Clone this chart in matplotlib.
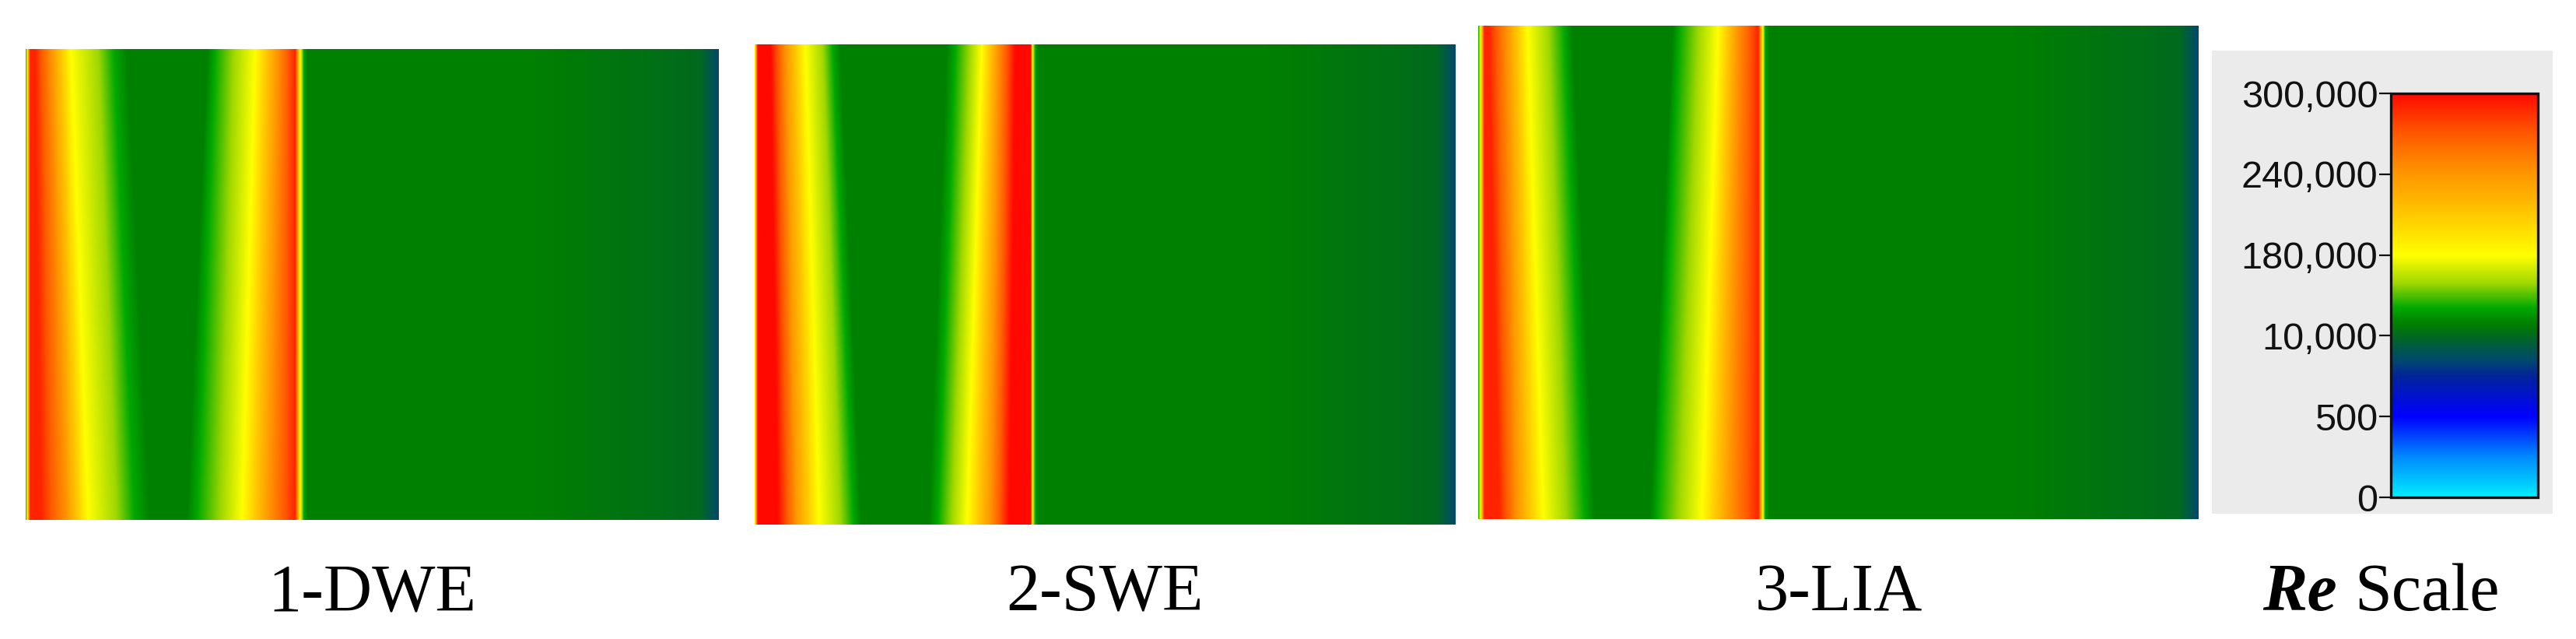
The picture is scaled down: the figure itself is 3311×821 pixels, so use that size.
"""
Re contour strips for three inlet cases (DWE, SWE, LIA) with a shared,
non-uniform Re colour scale.
"""
import numpy as np
import matplotlib
matplotlib.use("Agg")
import matplotlib.pyplot as plt
from matplotlib import font_manager
from matplotlib.cm import ScalarMappable
from matplotlib.colors import LinearSegmentedColormap, Normalize

W, H = 3312, 821

# ---- colour scale: the Re ticks sit at equal steps along the bar ----
RE_TICKS = [0, 500, 10000, 180000, 240000, 300000]
RE_TICK_LABELS = ["0", "500", "10,000", "180,000", "240,000", "300,000"]

CASES = ["1-DWE", "2-SWE", "3-LIA"]

# ---- Re profile along each channel (fraction of its length),
#      read on the top row and on the bottom row of the strip ----
DWE_X_TOP = [0, .002, .006, .013, .037, .065, .104, .127, .146, .262,
             .273, .300, .331, .363, .389, .396, .401, .406, .73, 1.0]
DWE_X_BOT = [0, .002, .006, .022, .059, .090, .131, .157, .180, .232,
             .247, .281, .312, .351, .389, .396, .401, .406, .73, 1.0]
DWE_RE = [69500, 180000, 290000, 290000, 240000, 180000, 120000, 69500, 35500, 35500,
          69500, 120000, 180000, 240000, 290000, 180000, 69500, 35500, 35500, 7150]

SWE_X_TOP = [0, .002, .004, .022, .044, .072, .097, .111, .122, .274, .286,
             .307, .324, .347, .372, .394, .396, .400, .405, .73, 1.0]
SWE_X_BOT = [0, .002, .004, .033, .059, .092, .122, .141, .152, .248, .261,
             .281, .303, .336, .363, .394, .396, .400, .405, .73, 1.0]
SWE_RE = [180000, 240000, 300000, 300000, 240000, 180000, 120000, 69500, 35500, 35500, 69500,
          120000, 180000, 240000, 300000, 300000, 180000, 69500, 35500, 35500, 7150]

LIA_X_TOP = [0, .003, .008, .014, .040, .068, .097, .119, .130, .270,
             .279, .306, .333, .360, .389, .395, .398, .404, .74, 1.0]
LIA_X_BOT = [0, .003, .008, .029, .054, .090, .122, .148, .162, .238,
             .248, .278, .310, .349, .389, .395, .398, .404, .74, 1.0]
LIA_RE = [69500, 180000, 290000, 290000, 240000, 180000, 120000, 69500, 35500, 35500,
          69500, 120000, 180000, 240000, 290000, 180000, 69500, 35500, 35500, 7150]

# colour nodes (position on bar, colour)
CMAP_NODES = [
    (0.00, "#00eeff"), (0.10, "#0088ff"), (0.20, "#0000ff"), (0.30, "#00249a"),
    (0.34, "#00486e"), (0.40, "#006a1e"), (0.43, "#008000"), (0.47, "#00a800"),
    (0.53, "#a0d800"), (0.60, "#ffff00"), (0.70, "#ffc800"), (0.80, "#ff9600"),
    (0.90, "#ff5a00"), (1.00, "#ff0800"),
]
cmap = LinearSegmentedColormap.from_list("re_scale", CMAP_NODES, N=512)
TICK_POS = np.linspace(0, 1, len(RE_TICKS))


def re_to_pos(re):
    return np.interp(re, RE_TICKS, TICK_POS)


def field(x_top, x_bot, re, nx=1800, ny=240):
    """Each row uses the profile breakpoints slid linearly from top to bottom."""
    xs = np.linspace(0, 1, nx)
    x_top, x_bot = np.asarray(x_top), np.asarray(x_bot)
    rows = [np.interp(xs, (1 - f) * x_top + f * x_bot, re) for f in np.linspace(0, 1, ny)]
    return np.array(rows)


fig = plt.figure(figsize=(W / 100, H / 100), dpi=100)
fig.patch.set_facecolor("white")


def px_axes(l, t, r, b):
    return fig.add_axes([l / W, 1 - b / H, (r - l) / W, (b - t) / H])


# pixel boxes (left, top, right, bottom) of the three strips
boxes = [(33, 63, 924, 668), (970, 57, 1871, 674), (1900, 33, 2826, 667)]
profiles = [(DWE_X_TOP, DWE_X_BOT, DWE_RE),
            (SWE_X_TOP, SWE_X_BOT, SWE_RE),
            (LIA_X_TOP, LIA_X_BOT, LIA_RE)]

label_font = dict(family="Liberation Serif", fontsize=62, color="black")

for box, prof, name in zip(boxes, profiles, CASES):
    ax = px_axes(*box)
    ax.imshow(re_to_pos(field(*prof)), cmap=cmap, vmin=0, vmax=1,
              aspect="auto", interpolation="bilinear")
    ax.set_axis_off()
    fig.text((box[0] + box[2]) / 2 / W, 1 - 784 / H, name,
             ha="center", va="baseline", **label_font)

# grey panel behind the colour bar
bg = px_axes(2843, 65, 3281, 660)
bg.set_facecolor("#ebebeb")
bg.set_xticks([]); bg.set_yticks([])
for s in bg.spines.values():
    s.set_visible(False)

# tick labels are tall and narrow in the original
installed = {f.name for f in font_manager.fontManager.ttflist}
if "Liberation Sans Narrow" in installed:
    tick_family, tick_size = "Liberation Sans Narrow", 40
else:
    tick_family, tick_size = "Liberation Sans", 35

cax = px_axes(3073, 120, 3262, 639)
cb = fig.colorbar(ScalarMappable(norm=Normalize(0, 1), cmap=cmap), cax=cax, ticks=TICK_POS)
cb.set_ticklabels(RE_TICK_LABELS)
cax.yaxis.set_ticks_position("left")
cb.outline.set_linewidth(2.4)
cb.outline.set_edgecolor("#111111")
cax.tick_params(axis="y", length=11, width=1.6, pad=1, labelsize=tick_size, colors="#111111")
for t in cax.get_yticklabels():
    t.set_family(tick_family)

# "Re Scale" with Re in bold italic
fig.text(3004 / W, 1 - 784 / H, "Re", ha="right", va="baseline",
         fontweight="bold", style="italic", **label_font)
fig.text(3026 / W, 1 - 784 / H, "Scale", ha="left", va="baseline", **label_font)

fig.savefig("out.png", dpi=100, facecolor="white")
